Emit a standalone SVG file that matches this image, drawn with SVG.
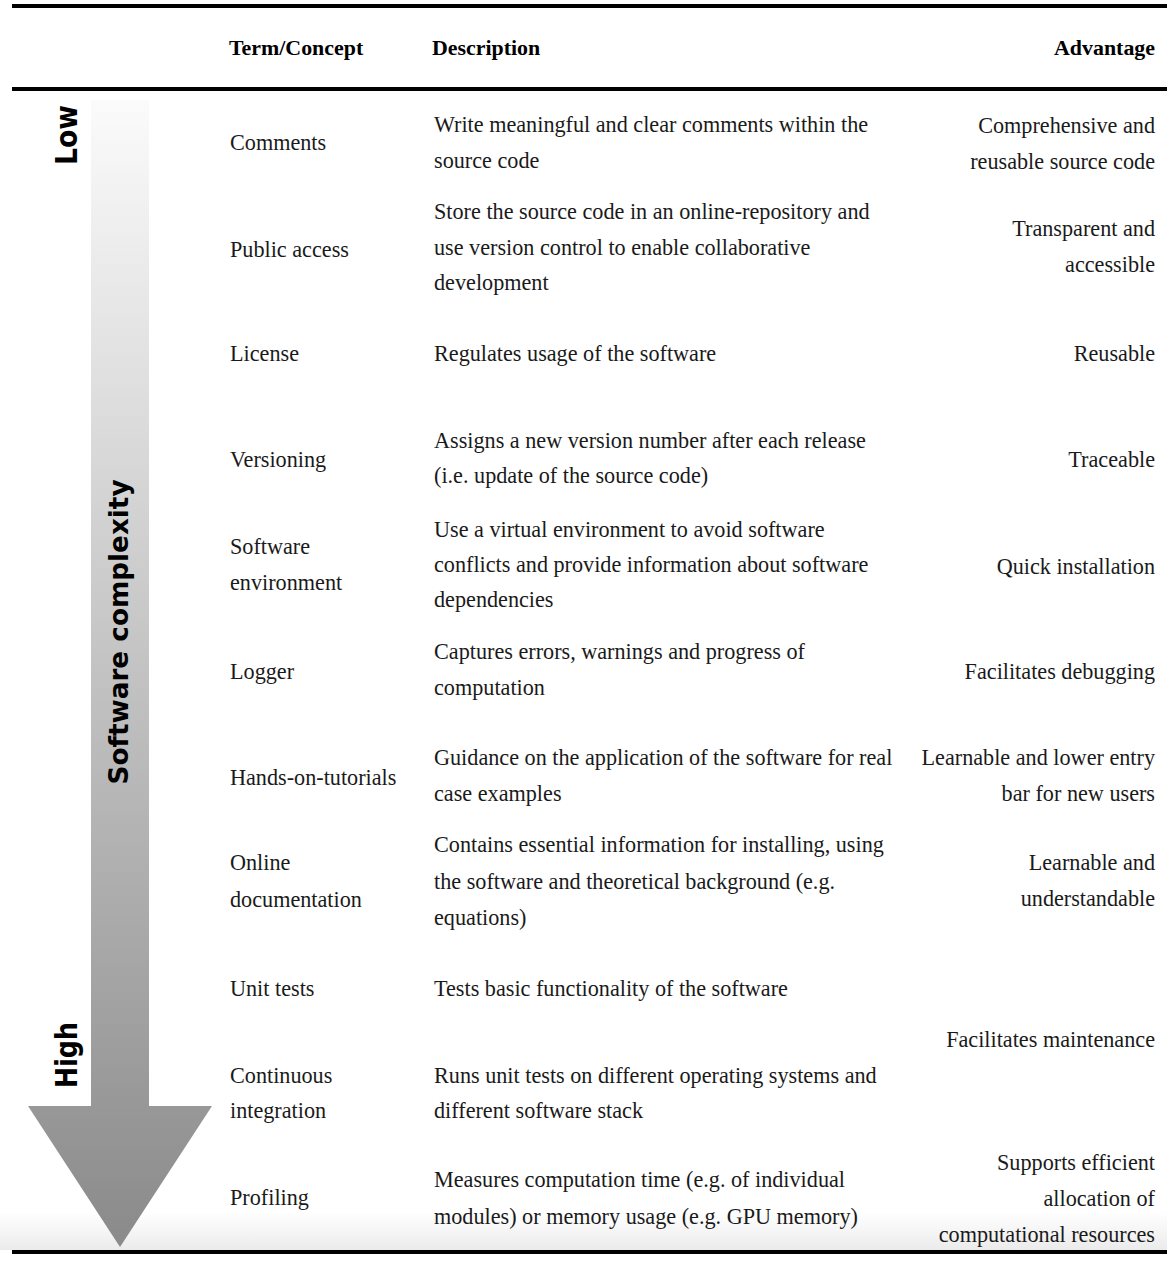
<svg xmlns="http://www.w3.org/2000/svg" width="1167" height="1261" viewBox="0 0 1167 1261">
<defs>
<linearGradient id="arrowGrad" x1="0" y1="100" x2="0" y2="1247" gradientUnits="userSpaceOnUse">
<stop offset="0" stop-color="#fbfbfb"/>
<stop offset="1" stop-color="#8a8a8a"/>
</linearGradient>
<linearGradient id="bandGrad" x1="0" y1="0" x2="0" y2="1">
<stop offset="0" stop-color="#ffffff"/>
<stop offset="1" stop-color="#ebebeb"/>
</linearGradient>
</defs>
<style>
.t{font-family:"Liberation Serif","Times New Roman",serif;font-size:22.2px;fill:#1a1a1a}
.h{font-family:"Liberation Serif","Times New Roman",serif;font-size:21.9px;font-weight:bold;fill:#000}
.r{text-anchor:end}
.s{font-family:"DejaVu Sans","Noto Sans",sans-serif;font-weight:bold;fill:#000}
.rule{stroke:#000;stroke-width:4}
</style>
<rect width="1167" height="1261" fill="#fff"/>
<rect x="0" y="1212" width="1167" height="38" fill="url(#bandGrad)"/>
<g id="arrow">
<path d="M91,100 H149 V1106 H212 L120,1247 L28,1106 H91 Z" fill="url(#arrowGrad)"/>
<text class="s" font-size="30" text-anchor="middle" transform="translate(77,135) rotate(-90)" textLength="60" lengthAdjust="spacingAndGlyphs">Low</text>
<text class="s" font-size="30" text-anchor="middle" transform="translate(77,1055) rotate(-90)" textLength="66" lengthAdjust="spacingAndGlyphs">High</text>
<text class="s" font-size="26" text-anchor="middle" transform="translate(128,632) rotate(-90)" textLength="305" lengthAdjust="spacingAndGlyphs">Software complexity</text>
</g>
<g id="rules">
<line class="rule" x1="12" y1="6" x2="1167" y2="6"/>
<line class="rule" x1="12" y1="89" x2="1167" y2="89"/>
<line class="rule" x1="12" y1="1252" x2="1167" y2="1252"/>
</g>
<g id="header">
<text class="h" x="229" y="55">Term/Concept</text>
<text class="h" x="432" y="55">Description</text>
<text class="h r" x="1155" y="55">Advantage</text>
</g>
<g id="row-comments">
<text class="t" x="230" y="150">Comments</text>
<text class="t" x="434" y="132">Write meaningful and clear comments within the</text>
<text class="t" x="434" y="168">source code</text>
<text class="t r" x="1155" y="133">Comprehensive and</text>
<text class="t r" x="1155" y="169">reusable source code</text>
</g>
<g id="row-public-access">
<text class="t" x="230" y="257">Public access</text>
<text class="t" x="434" y="219">Store the source code in an online-repository and</text>
<text class="t" x="434" y="255">use version control to enable collaborative</text>
<text class="t" x="434" y="290">development</text>
<text class="t r" x="1155" y="236">Transparent and</text>
<text class="t r" x="1155" y="272">accessible</text>
</g>
<g id="row-license">
<text class="t" x="230" y="361">License</text>
<text class="t" x="434" y="361">Regulates usage of the software</text>
<text class="t r" x="1155" y="361">Reusable</text>
</g>
<g id="row-versioning">
<text class="t" x="230" y="467">Versioning</text>
<text class="t" x="434" y="448">Assigns a new version number after each release</text>
<text class="t" x="434" y="483">(i.e. update of the source code)</text>
<text class="t r" x="1155" y="467">Traceable</text>
</g>
<g id="row-software-environment">
<text class="t" x="230" y="554">Software</text>
<text class="t" x="230" y="590">environment</text>
<text class="t" x="434" y="537">Use a virtual environment to avoid software</text>
<text class="t" x="434" y="572">conflicts and provide information about software</text>
<text class="t" x="434" y="607">dependencies</text>
<text class="t r" x="1155" y="574">Quick installation</text>
</g>
<g id="row-logger">
<text class="t" x="230" y="679">Logger</text>
<text class="t" x="434" y="659">Captures errors, warnings and progress of</text>
<text class="t" x="434" y="695">computation</text>
<text class="t r" x="1155" y="679">Facilitates debugging</text>
</g>
<g id="row-tutorials">
<text class="t" x="230" y="785">Hands-on-tutorials</text>
<text class="t" x="434" y="765">Guidance on the application of the software for real</text>
<text class="t" x="434" y="801">case examples</text>
<text class="t r" x="1155" y="765">Learnable and lower entry</text>
<text class="t r" x="1155" y="801">bar for new users</text>
</g>
<g id="row-documentation">
<text class="t" x="230" y="870">Online</text>
<text class="t" x="230" y="907">documentation</text>
<text class="t" x="434" y="852">Contains essential information for installing, using</text>
<text class="t" x="434" y="889">the software and theoretical background (e.g.</text>
<text class="t" x="434" y="925">equations)</text>
<text class="t r" x="1155" y="870">Learnable and</text>
<text class="t r" x="1155" y="906">understandable</text>
</g>
<g id="row-unit-tests">
<text class="t" x="230" y="996">Unit tests</text>
<text class="t" x="434" y="996">Tests basic functionality of the software</text>
</g>
<g id="row-maintenance">
<text class="t r" x="1155" y="1047">Facilitates maintenance</text>
</g>
<g id="row-ci">
<text class="t" x="230" y="1083">Continuous</text>
<text class="t" x="230" y="1118">integration</text>
<text class="t" x="434" y="1083">Runs unit tests on different operating systems and</text>
<text class="t" x="434" y="1118">different software stack</text>
</g>
<g id="row-profiling">
<text class="t" x="230" y="1205">Profiling</text>
<text class="t" x="434" y="1187">Measures computation time (e.g. of individual</text>
<text class="t" x="434" y="1224">modules) or memory usage (e.g. GPU memory)</text>
<text class="t r" x="1155" y="1170">Supports efficient</text>
<text class="t r" x="1155" y="1206">allocation of</text>
<text class="t r" x="1155" y="1242">computational resources</text>
</g>
<g id="connectors"></g>
</svg>
